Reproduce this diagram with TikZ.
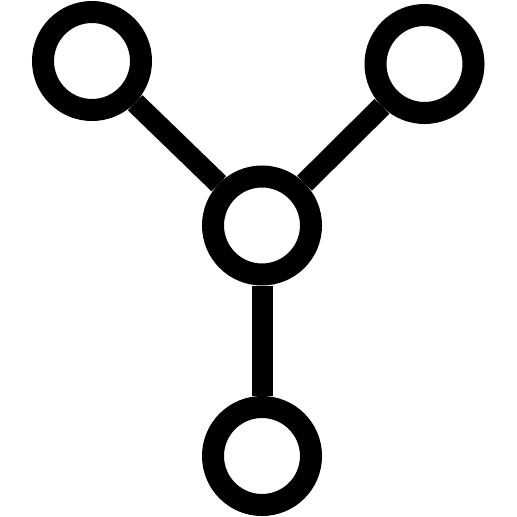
\documentclass[tikz,border=0pt]{standalone}
\begin{document}
\begin{tikzpicture}[x=1pt,y=-1pt,
  ring/.style={circle,draw=black,line width=22pt,minimum size=98pt,inner sep=0pt},
  link/.style={draw=black,line width=21pt}]
\useasboundingbox (0,0) rectangle (517,517);
\node[ring] (tl) at (92,61) {};
\node[ring] (tr) at (424.5,64) {};
\node[ring] (c) at (262,225.5) {};
\node[ring] (b) at (262,456) {};
\draw[link] (tl) -- (c);
\draw[link] (tr) -- (c);
\draw[link] (c) -- (b);
\end{tikzpicture}
\end{document}
